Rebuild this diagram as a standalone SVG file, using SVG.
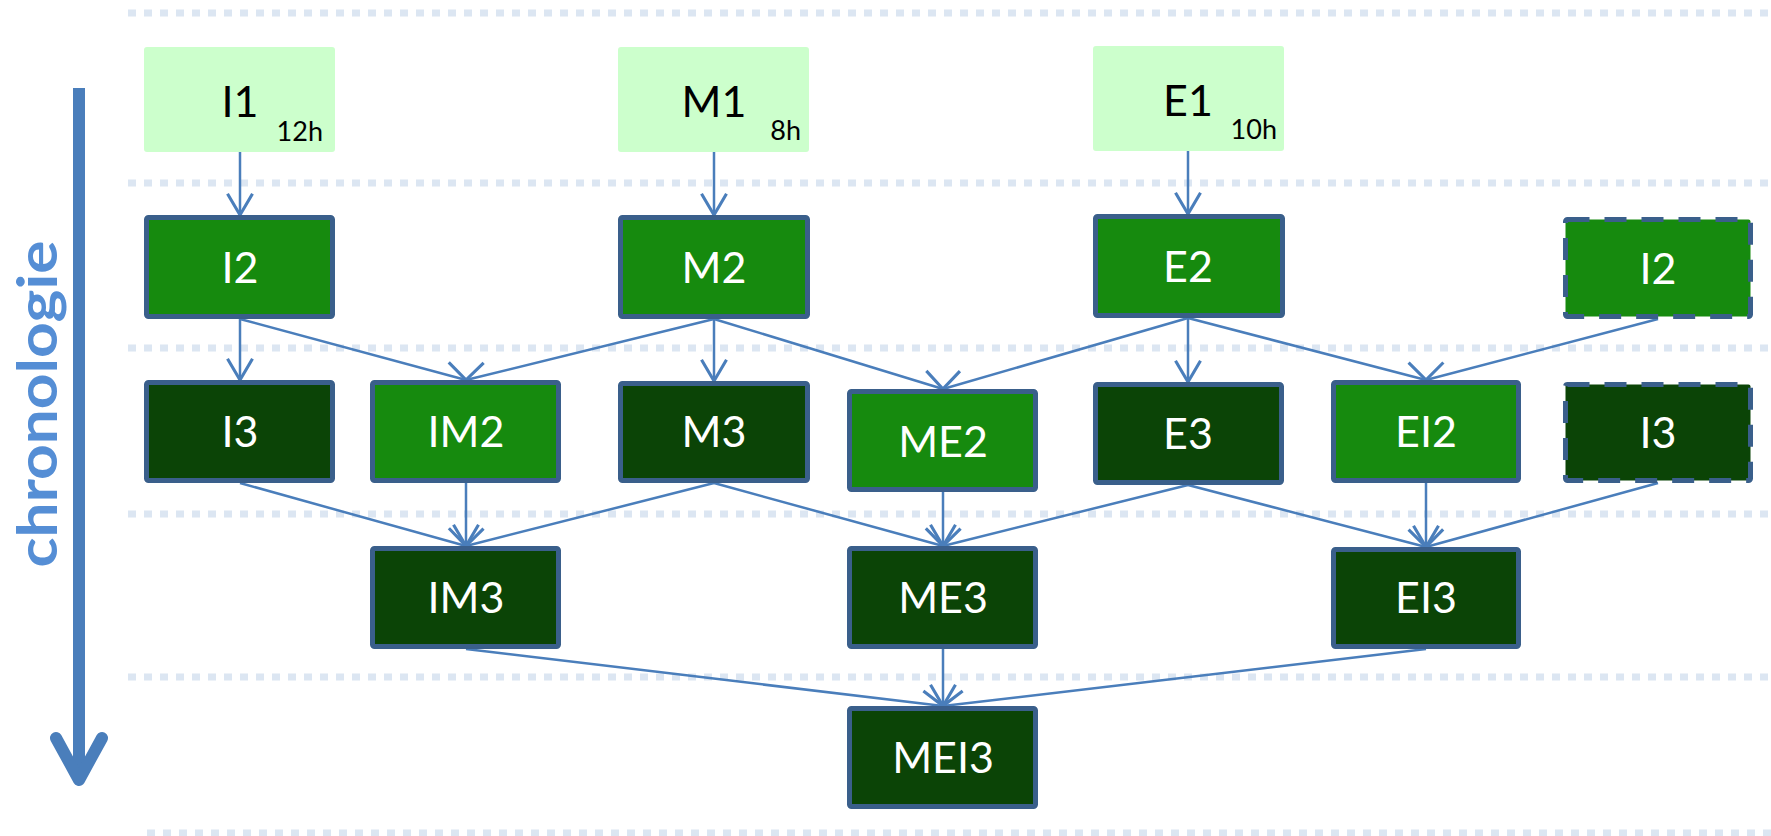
<svg xmlns="http://www.w3.org/2000/svg" width="1771" height="836" viewBox="0 0 1771 836">
<style>
.grid{stroke:#DCE6F2;stroke-width:7;stroke-dasharray:8 8;fill:none}
.src{fill:#CCFFCC}
.mid{fill:#168A0E;stroke:#3A5F8B;stroke-width:5}
.dark{fill:#0B4406;stroke:#3A5F8B;stroke-width:5}
.dash{stroke-dasharray:22 15}
.lbl{font-family:Lato,"Open Sans",sans-serif;font-size:43px;fill:#FFFFFF;text-anchor:middle}
.blk{fill:#000000}
.hrs{font-family:Lato,"Open Sans",sans-serif;font-size:27px;fill:#000000;text-anchor:end}
.conn line{stroke:#4A7EBB;stroke-width:2.5;marker-end:url(#ah)}
</style>
<defs>
<marker id="ah" markerUnits="userSpaceOnUse" markerWidth="30" markerHeight="30" viewBox="-20 -12 24 24" refX="0" refY="0" orient="auto" overflow="visible">
<path d="M-17,-10 L0,0 L-17,10" fill="none" stroke="#4A7EBB" stroke-width="2.5"/>
</marker>
</defs>
<rect width="1771" height="836" fill="#FFFFFF"/>
<g id="grid">
<line class="grid" x1="128" y1="13" x2="1771" y2="13"/>
<line class="grid" x1="128" y1="183" x2="1771" y2="183"/>
<line class="grid" x1="128" y1="348" x2="1771" y2="348"/>
<line class="grid" x1="128" y1="514" x2="1771" y2="514"/>
<line class="grid" x1="128" y1="677" x2="1771" y2="677"/>
<line class="grid" x1="147" y1="833" x2="1771" y2="833"/>
</g>
<g id="timeline">
<line x1="79" y1="88" x2="79" y2="778" stroke="#4A7EBB" stroke-width="12"/>
<path d="M56,738 L79,780 L102,738" fill="none" stroke="#4A7EBB" stroke-width="12" stroke-linecap="round" stroke-linejoin="round"/>
<text x="0" y="0" transform="translate(57,404) rotate(-90)" font-family="Lato,'Open Sans',sans-serif" font-weight="bold" font-size="56" fill="#558ED5" text-anchor="middle" textLength="327" lengthAdjust="spacingAndGlyphs">chronologie</text>
</g>
<g id="connectors" class="conn">
<line x1="240" y1="152" x2="240" y2="215"/>
<line x1="714" y1="152" x2="714" y2="215"/>
<line x1="1188" y1="151" x2="1188" y2="214"/>
<line x1="240" y1="319" x2="240" y2="380"/>
<line x1="240" y1="319" x2="466" y2="380"/>
<line x1="714" y1="319" x2="466" y2="380"/>
<line x1="714" y1="319" x2="714" y2="381"/>
<line x1="714" y1="319" x2="943" y2="389"/>
<line x1="1188" y1="318" x2="943" y2="389"/>
<line x1="1188" y1="318" x2="1188" y2="382"/>
<line x1="1188" y1="318" x2="1426" y2="380"/>
<line x1="1658" y1="319" x2="1426" y2="380"/>
<line x1="240" y1="483" x2="466" y2="546"/>
<line x1="466" y1="483" x2="466" y2="546"/>
<line x1="714" y1="483" x2="466" y2="546"/>
<line x1="714" y1="483" x2="943" y2="546"/>
<line x1="943" y1="492" x2="943" y2="546"/>
<line x1="1188" y1="485" x2="943" y2="546"/>
<line x1="1188" y1="485" x2="1426" y2="547"/>
<line x1="1426" y1="483" x2="1426" y2="547"/>
<line x1="1658" y1="483" x2="1426" y2="547"/>
<line x1="466" y1="649" x2="943" y2="706"/>
<line x1="943" y1="649" x2="943" y2="706"/>
<line x1="1426" y1="649" x2="943" y2="706"/>
</g>
<g id="I1"><rect class="src" x="144" y="47" width="191" height="105" rx="3"/><text class="lbl blk" x="240" y="117">I1</text><text class="hrs" x="323" y="141">12h</text></g>
<g id="M1"><rect class="src" x="618" y="47" width="191" height="105" rx="3"/><text class="lbl blk" x="714" y="117">M1</text><text class="hrs" x="801" y="140">8h</text></g>
<g id="E1"><rect class="src" x="1093" y="46" width="191" height="105" rx="3"/><text class="lbl blk" x="1188" y="116">E1</text><text class="hrs" x="1277" y="139">10h</text></g>
<g id="I2"><rect class="mid" x="146.5" y="217.5" width="186" height="99" rx="2"/><text class="lbl" x="240" y="283">I2</text></g>
<g id="M2"><rect class="mid" x="620.5" y="217.5" width="187" height="99" rx="2"/><text class="lbl" x="714" y="283">M2</text></g>
<g id="E2"><rect class="mid" x="1095.5" y="216.5" width="187" height="99" rx="2"/><text class="lbl" x="1188" y="282">E2</text></g>
<g id="I2b"><rect class="mid dash" x="1565.5" y="219.5" width="185" height="97" rx="2"/><text class="lbl" x="1658" y="284">I2</text></g>
<g id="I3"><rect class="dark" x="146.5" y="382.5" width="186" height="98" rx="2"/><text class="lbl" x="240" y="447">I3</text></g>
<g id="IM2"><rect class="mid" x="372.5" y="382.5" width="186" height="98" rx="2"/><text class="lbl" x="466" y="447">IM2</text></g>
<g id="M3"><rect class="dark" x="620.5" y="383.5" width="187" height="97" rx="2"/><text class="lbl" x="714" y="447">M3</text></g>
<g id="ME2"><rect class="mid" x="849.5" y="391.5" width="186" height="98" rx="2"/><text class="lbl" x="943" y="457">ME2</text></g>
<g id="E3"><rect class="dark" x="1095.5" y="384.5" width="186" height="98" rx="2"/><text class="lbl" x="1188" y="449">E3</text></g>
<g id="EI2"><rect class="mid" x="1333.5" y="382.5" width="185" height="98" rx="2"/><text class="lbl" x="1426" y="447">EI2</text></g>
<g id="I3b"><rect class="dark dash" x="1565.5" y="384.5" width="185" height="96" rx="2"/><text class="lbl" x="1658" y="448">I3</text></g>
<g id="IM3"><rect class="dark" x="372.5" y="548.5" width="186" height="98" rx="2"/><text class="lbl" x="466" y="613">IM3</text></g>
<g id="ME3"><rect class="dark" x="849.5" y="548.5" width="186" height="98" rx="2"/><text class="lbl" x="943" y="613">ME3</text></g>
<g id="EI3"><rect class="dark" x="1333.5" y="549.5" width="185" height="97" rx="2"/><text class="lbl" x="1426" y="613">EI3</text></g>
<g id="MEI3"><rect class="dark" x="849.5" y="708.5" width="186" height="98" rx="2"/><text class="lbl" x="943" y="773">MEI3</text></g>
</svg>
